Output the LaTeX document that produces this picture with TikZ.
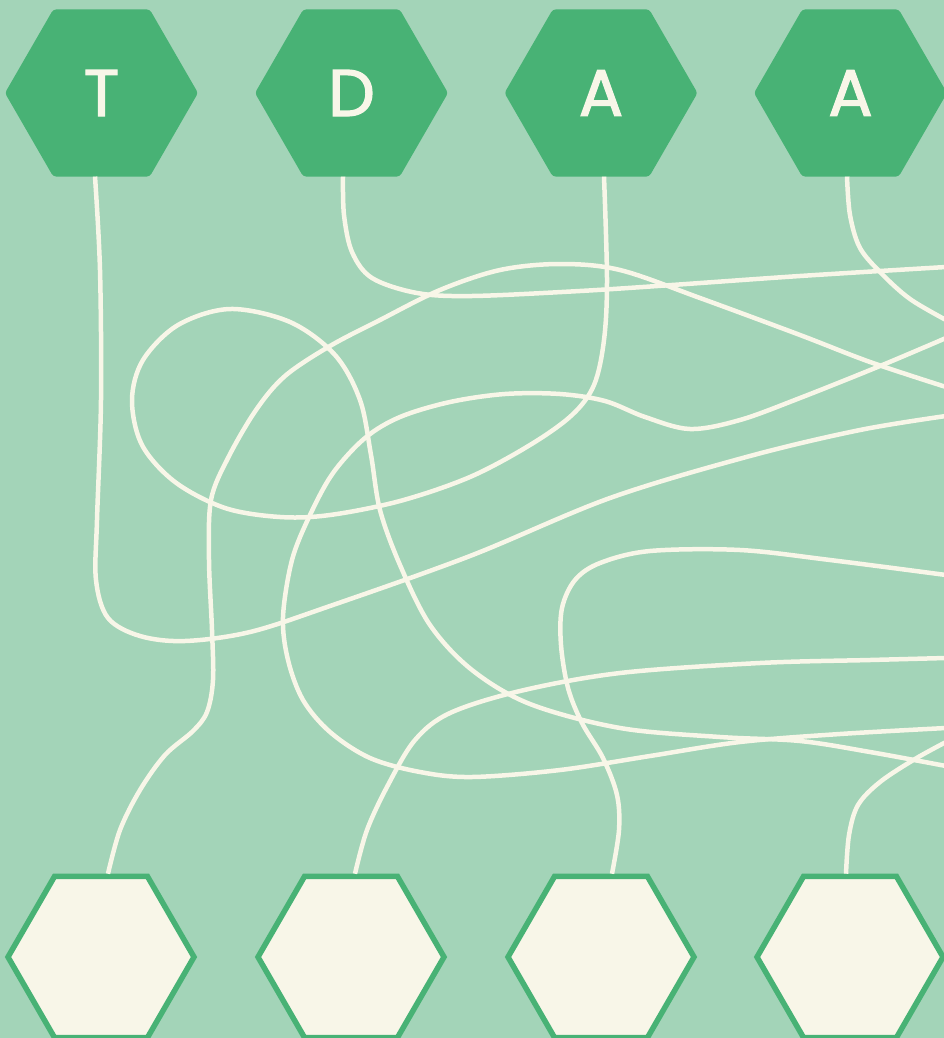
\documentclass[tikz,border=0pt]{standalone}
\usepackage{fontspec}
\setmainfont{Poppins}[FakeBold=1.8]
\usetikzlibrary{shapes.geometric}
\definecolor{bg}{HTML}{A3D4B8}
\definecolor{hexgreen}{HTML}{48B275}
\definecolor{cream}{HTML}{F8F6E8}
\begin{document}
\begin{tikzpicture}[x=1pt,y=-1pt,
 tophex/.style={regular polygon, regular polygon sides=6, minimum size=193pt, inner sep=0pt, outer sep=0pt, fill=hexgreen, rounded corners=3pt, text=cream, font=\fontsize{66}{66}\selectfont},
 bothex/.style={regular polygon, regular polygon sides=6, minimum size=186pt, inner sep=0pt, fill=cream, draw=hexgreen, line width=5.5pt, line join=miter},
 wire/.style={draw=cream, line width=4.5pt, line cap=butt, line join=round}]
\fill[bg] (0,0) rectangle (944,1038);
\useasboundingbox (0,0) rectangle (944,1038);
\clip (0,0) rectangle (944,1038);
% top hexagons
\node[tophex] (T) at (101.5,93) {T};
\node[tophex] (D) at (351.5,93) {D};
\node[tophex] (A1) at (601,93) {A};
\node[tophex] (A2) at (850.5,93) {A};
% bottom hexagons
\node[bothex] (B1) at (101,957) {};
\node[bothex] (B2) at (351,957) {};
\node[bothex] (B3) at (601,957) {};
\node[bothex] (B4) at (850,957) {};
% free ends at the right edge
\coordinate (eT) at (946,416);
\coordinate (eD) at (946,267);
\coordinate (eA1) at (946,766);
\coordinate (eA2) at (946,320);
\coordinate (eB1) at (946,387);
\coordinate (eB2) at (946,658);
\coordinate (eB3) at (946,575);
\coordinate (eB4) at (946,742);
\coordinate (eLa) at (946,338);
\coordinate (eLb) at (946,728);
% wires
\draw[wire] plot[smooth, tension=0.55] coordinates {([xshift=-6.5pt]T.south) (100,270) (101,400) (97,520) (96,580) (108,618) (140,636) (185,641) (250,632) (330,606) (470,556) (610,498) (750,456) (860,430) (eT)};
\draw[wire] plot[smooth, tension=0.55] coordinates {([xshift=-8.5pt]D.south) (344,215) (352,252) (372,278) (417,293) (472,296) (580,291) (672,285) (800,276) (eD)};
\draw[wire] plot[smooth, tension=0.55] coordinates {([xshift=3pt]A1.south) (607,280) (604,340) (594,385) (572,415) (530,445) (470,477) (400,501) (330,515) (280,517) (225,508) (175,482) (142,445) (132,400) (143,360) (178,325) (230,309) (290,322) (335,355) (360,400) (371,455) (380,510) (400,565) (430,625) (472,670) (530,704) (620,728) (720,737) (800,741) (870,752) (eA1)};
\draw[wire] plot[smooth, tension=0.55] coordinates {([xshift=-3.5pt]A2.south) (850,215) (860,248) (882,274) (910,299) (eA2)};
\draw[wire] plot[smooth, tension=0.55] coordinates {([xshift=7pt]B1.north) (120,830) (140,790) (165,755) (193,731) (207,712) (213,680) (212,630) (209,560) (211,500) (228,458) (256,410) (285,376) (330,346) (380,320) (440,290) (500,270) (560,264) (620,270) (700,298) (800,335) (870,362) (eB1)};
\draw[wire] plot[smooth, tension=0.55] coordinates {([xshift=4pt]B2.north) (367,830) (388,785) (415,740) (450,713) (520,691) (620,673) (760,663) (870,660) (eB2)};
\draw[wire] plot[smooth, tension=0.55] coordinates {([xshift=11pt]B3.north) (619,830) (617,795) (603,758) (582,723) (568,688) (561,645) (562,608) (575,580) (600,563) (650,551) (740,550) (830,560) (eB3)};
\draw[wire] plot[smooth, tension=0.55] coordinates {([xshift=-4pt]B4.north) (849,835) (858,805) (880,782) (915,759) (eB4)};
\draw[wire] plot[smooth, tension=0.55] coordinates {(eLa) (880,366) (800,398) (740,420) (690,429) (645,417) (605,401) (560,394) (505,394) (450,402) (400,417) (365,438) (333,473) (310,515) (292,560) (283,617) (288,660) (303,700) (330,732) (370,758) (420,772) (472,777) (560,770) (650,756) (740,742) (840,734) (eLb)};
\end{tikzpicture}
\end{document}
